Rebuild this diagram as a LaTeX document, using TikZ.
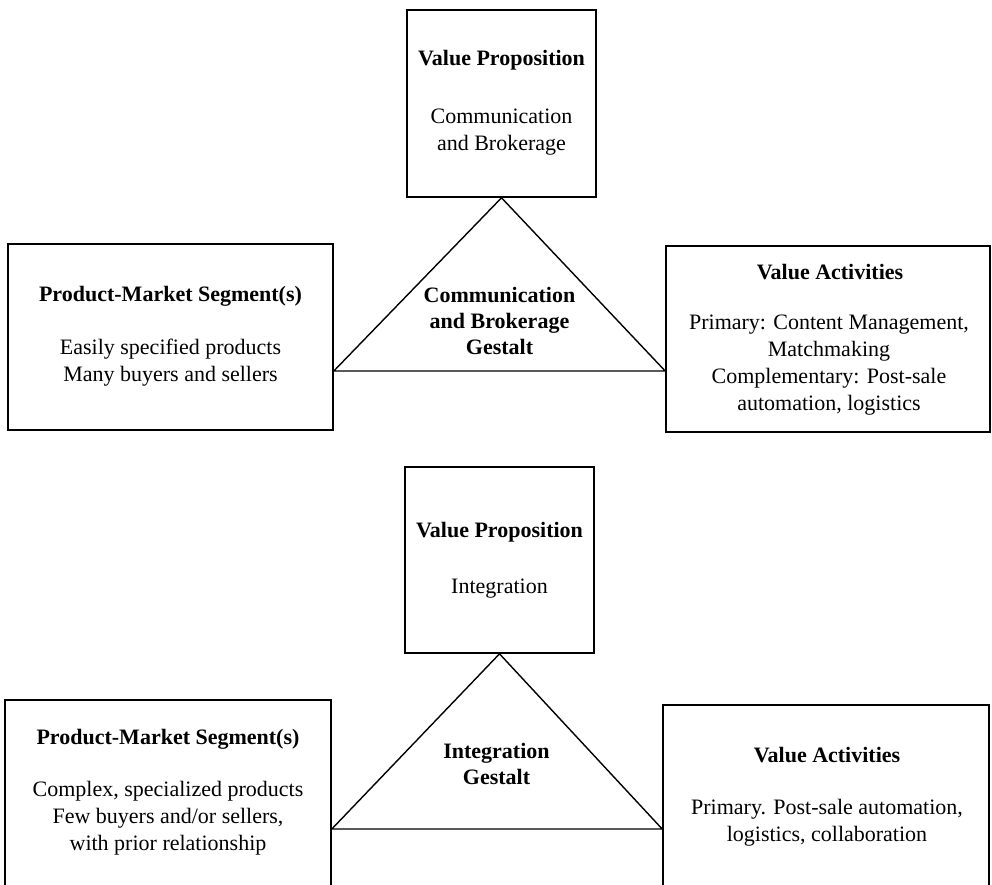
\documentclass[tikz,border=0pt]{standalone}
\usepackage{fontspec}
\setmainfont{Liberation Serif}
\begin{document}
\begin{tikzpicture}[x=1pt,y=-1pt,
  box/.style={draw, line width=1.6pt, rectangle, inner sep=0pt},
  edge/.style={line width=1.4pt, line join=miter},
  ttl/.style={font=\fontsize{22}{27}\selectfont\bfseries, inner sep=0pt, anchor=center},
  txt/.style={font=\fontsize{22}{27}\selectfont, align=center, inner sep=0pt, anchor=center},
  gst/.style={font=\fontsize{22}{26}\selectfont\bfseries, align=center, inner sep=0pt, anchor=center}]
\clip (0,0) rectangle (992,884);
\fill[white] (0,0) rectangle (992,884);
% ---------------- top gestalt ----------------
\node[box, minimum width=189pt, minimum height=187pt] (vp1) at (501.5,103.5) {};
\node[box, minimum width=325pt, minimum height=186pt] (pms1) at (170.5,337) {};
\node[box, minimum width=324pt, minimum height=186pt] (va1) at (828,339) {};
\coordinate (h1) at (0,371);
\coordinate (bl1) at (pms1.east |- h1);
\coordinate (br1) at (va1.west |- h1);
\draw[edge] (vp1.south) -- (bl1) -- (br1) -- cycle;
\node[ttl] (vp1t) at (501.5,60) {Value Proposition};
\node[txt] (vp1x) at (501.5,132) {Communication\\and Brokerage};
\node[ttl] (pms1t) at (170.5,296) {Product-Market Segment(s)};
\node[txt] (pms1x) at (170.5,362.5) {Easily specified products\\Many buyers and sellers};
\node[gst] (g1) at (499.5,321) {Communication\\and Brokerage\\Gestalt};
\node[ttl] (va1t) at (830,272) {Value Activities};
\node[txt] (va1x) at (829,365) {Primary: Content Management,\\Matchmaking\\Complementary: Post-sale\\automation, logistics};
% ---------------- bottom gestalt ----------------
\node[box, minimum width=189pt, minimum height=186pt] (vp2) at (499.5,560) {};
\node[box, minimum width=326pt, minimum height=240pt] (pms2) at (168,820) {};
\node[box, minimum width=326pt, minimum height=240pt] (va2) at (826,825) {};
\coordinate (h2) at (0,829);
\coordinate (bl2) at (pms2.east |- h2);
\coordinate (br2) at (va2.west |- h2);
\draw[edge] (vp2.south) -- (bl2) -- (br2) -- cycle;
\node[ttl] (vp2t) at (499.5,532) {Value Proposition};
\node[txt] (vp2x) at (499.5,589) {Integration};
\node[ttl] (pms2t) at (168,739) {Product-Market Segment(s)};
\node[txt] (pms2x) at (168,818.5) {Complex, specialized products\\Few buyers and/or sellers,\\with prior relationship};
\node[gst] (g2) at (496.5,763.5) {Integration\\Gestalt};
\node[ttl] (va2t) at (827,755) {Value Activities};
\node[txt] (va2x) at (827,823) {Primary. Post-sale automation,\\logistics, collaboration};
\end{tikzpicture}
\end{document}
